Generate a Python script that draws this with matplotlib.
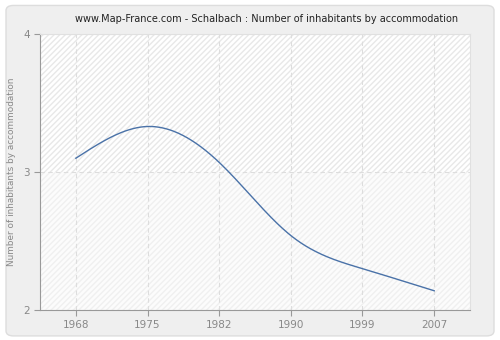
import numpy as np
import matplotlib
matplotlib.use("Agg")
import matplotlib.pyplot as plt
from matplotlib.patches import FancyBboxPatch, Rectangle

years = ["1968", "1975", "1982", "1990", "1999", "2007"]
inhabitants = [3.10, 3.33, 3.07, 2.54, 2.30, 2.14]


def natural_spline(x, y, n=400):
    x = np.asarray(x, float)
    y = np.asarray(y, float)
    k = len(x)
    h = np.diff(x)
    A = np.zeros((k, k))
    b = np.zeros(k)
    A[0, 0] = A[-1, -1] = 1
    for i in range(1, k - 1):
        A[i, i - 1] = h[i - 1]
        A[i, i] = 2 * (h[i - 1] + h[i])
        A[i, i + 1] = h[i]
        b[i] = 3 * ((y[i + 1] - y[i]) / h[i] - (y[i] - y[i - 1]) / h[i - 1])
    c = np.linalg.solve(A, b)
    xs = np.linspace(x[0], x[-1], n)
    ys = np.empty_like(xs)
    for j, xv in enumerate(xs):
        i = min(np.searchsorted(x, xv, side="right") - 1, k - 2)
        d = xv - x[i]
        bi = (y[i + 1] - y[i]) / h[i] - h[i] * (2 * c[i] + c[i + 1]) / 3
        di = (c[i + 1] - c[i]) / (3 * h[i])
        ys[j] = y[i] + bi * d + c[i] * d ** 2 + di * d ** 3
    return xs, ys


fig = plt.figure(figsize=(5, 3.4), dpi=100)
fig.patch.set_facecolor("white")
fig.patches.append(FancyBboxPatch((0.012, 0.012), 0.976, 0.972,
                                  boxstyle="round,pad=0,rounding_size=0.015",
                                  transform=fig.transFigure, facecolor="#efefef",
                                  edgecolor="#dddddd", linewidth=1, zorder=-10))

ax = fig.add_axes([0.08, 0.088, 0.86, 0.812])
ax.set_facecolor("#ffffff")
pos = np.arange(len(years))
ax.set_xlim(-0.5, len(years) - 0.5)
ax.set_ylim(2, 4)

# hatched background bands
ax.add_patch(Rectangle((-0.5, 3), len(years), 1, facecolor="#ffffff",
                       hatch="//////", edgecolor="#e8e8e8", linewidth=0, zorder=0))
ax.add_patch(Rectangle((-0.5, 2), len(years), 1, facecolor="#fcfcfc",
                       hatch="//////", edgecolor="#f0f0f0", linewidth=0, zorder=0))

xs, ys = natural_spline(pos, inhabitants)
ax.plot(xs, ys, color="#4a72a8", linewidth=1, zorder=3)

ax.set_xticks(pos)
ax.set_xticklabels(years)
ax.set_yticks([2, 3, 4])
ax.grid(True, color="#dddddd", linestyle=(0, (4, 3)), linewidth=0.8, zorder=1)
ax.set_axisbelow(True)

for side in ("top", "right"):
    ax.spines[side].set_color("#e0e0e0")
for side in ("left", "bottom"):
    ax.spines[side].set_color("#999999")
ax.tick_params(colors="#888888", labelsize=7.5, length=4, color="#999999")
for lab in ax.get_xticklabels() + ax.get_yticklabels():
    lab.set_color("#888888")

ax.set_ylabel("Number of inhabitants by accommodation", fontsize=6.4, color="#888888",
              labelpad=5)
fig.text(0.534, 0.944,
         "www.Map-France.com - Schalbach : Number of inhabitants by accommodation",
         fontsize=7, color="#222222", ha="center", va="center")

fig.savefig("out.png", dpi=100, facecolor=fig.get_facecolor())
